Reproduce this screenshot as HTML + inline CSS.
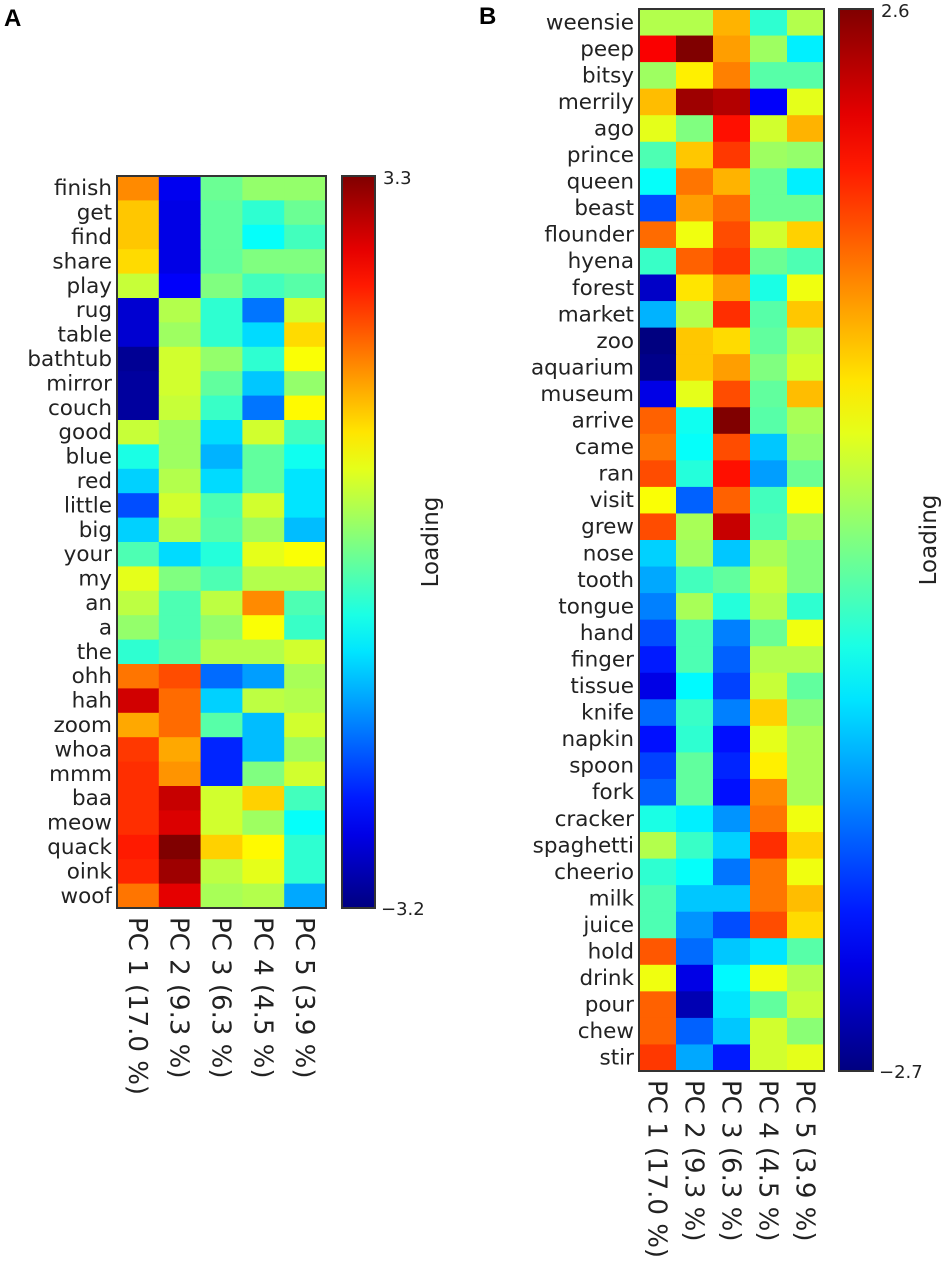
<!DOCTYPE html>
<html><head><meta charset="utf-8"><style>
html,body{margin:0;padding:0;background:#fff;}
svg{display:block;font-family:"DejaVu Sans","Liberation Sans",sans-serif;}
</style></head><body>
<svg id="fig" width="950" height="1269" viewBox="0 0 950 1269">
<text x="4" y="26" font-size="24" font-weight="bold" font-family="Liberation Sans, sans-serif">A</text>
<text x="479" y="24" font-size="24" font-weight="bold" font-family="Liberation Sans, sans-serif">B</text>
<g id="panelA"></g>
<g id="panelB"></g>
</svg>
<script>
// Loadings normalized to colour-scale position (0 = min, 1 = max of each panel's scale)
const pcLabels = ["PC 1 (17.0 %)","PC 2 (9.3 %)","PC 3 (6.3 %)","PC 4 (4.5 %)","PC 5 (3.9 %)"];
const wordsA = ["finish","get","find","share","play","rug","table","bathtub","mirror","couch","good","blue","red","little","big","your","my","an","a","the","ohh","hah","zoom","whoa","mmm","baa","meow","quack","oink","woof"];
const valuesA = [
[0.74,0.11,0.48,0.52,0.52],[0.68,0.10,0.47,0.42,0.48],[0.68,0.10,0.47,0.38,0.44],[0.66,0.10,0.47,0.50,0.50],[0.57,0.12,0.50,0.44,0.46],
[0.08,0.55,0.42,0.24,0.58],[0.08,0.53,0.42,0.34,0.66],[0.02,0.58,0.52,0.42,0.62],[0.03,0.58,0.47,0.32,0.52],[0.03,0.57,0.43,0.24,0.63],
[0.57,0.53,0.34,0.58,0.44],[0.40,0.53,0.30,0.47,0.39],[0.33,0.55,0.34,0.47,0.35],[0.20,0.58,0.45,0.58,0.35],[0.33,0.55,0.46,0.53,0.31],
[0.45,0.34,0.41,0.60,0.62],[0.60,0.50,0.45,0.55,0.55],[0.56,0.45,0.56,0.74,0.45],[0.52,0.45,0.52,0.62,0.43],[0.42,0.46,0.55,0.55,0.58],
[0.76,0.80,0.23,0.28,0.54],[0.92,0.77,0.33,0.56,0.55],[0.71,0.77,0.46,0.31,0.58],[0.82,0.71,0.16,0.31,0.53],[0.83,0.73,0.16,0.50,0.58],
[0.83,0.93,0.58,0.67,0.44],[0.83,0.91,0.58,0.53,0.38],[0.85,1.00,0.67,0.63,0.42],[0.84,0.97,0.56,0.60,0.42],[0.76,0.90,0.54,0.55,0.29]];
const scaleA = ["3.3","\u22123.2"];
const wordsB = ["weensie","peep","bitsy","merrily","ago","prince","queen","beast","flounder","hyena","forest","market","zoo","aquarium","museum","arrive","came","ran","visit","grew","nose","tooth","tongue","hand","finger","tissue","knife","napkin","spoon","fork","cracker","spaghetti","cheerio","milk","juice","hold","drink","pour","chew","stir"];
const valuesB = [
[0.55,0.55,0.70,0.42,0.55],[0.88,1.00,0.72,0.53,0.36],[0.53,0.64,0.75,0.46,0.46],[0.69,0.97,0.95,0.12,0.60],[0.60,0.50,0.86,0.58,0.70],
[0.45,0.68,0.82,0.53,0.52],[0.38,0.76,0.70,0.48,0.36],[0.20,0.72,0.77,0.48,0.48],[0.77,0.61,0.80,0.58,0.67],[0.43,0.78,0.82,0.48,0.45],
[0.07,0.65,0.72,0.40,0.61],[0.30,0.55,0.83,0.46,0.68],[0.00,0.68,0.66,0.47,0.56],[0.01,0.68,0.72,0.50,0.58],[0.10,0.60,0.80,0.47,0.69],
[0.78,0.39,1.00,0.46,0.54],[0.76,0.38,0.80,0.32,0.52],[0.80,0.41,0.86,0.28,0.48],[0.62,0.22,0.78,0.44,0.62],[0.80,0.54,0.93,0.45,0.53],
[0.33,0.53,0.32,0.54,0.50],[0.29,0.44,0.47,0.57,0.50],[0.25,0.54,0.41,0.55,0.42],[0.20,0.45,0.25,0.48,0.61],[0.15,0.45,0.22,0.55,0.55],
[0.10,0.37,0.19,0.57,0.47],[0.23,0.43,0.25,0.67,0.51],[0.14,0.42,0.14,0.60,0.54],[0.19,0.47,0.16,0.64,0.54],[0.22,0.47,0.14,0.74,0.54],
[0.40,0.36,0.27,0.76,0.61],[0.55,0.43,0.33,0.83,0.67],[0.42,0.38,0.24,0.76,0.61],[0.45,0.32,0.32,0.76,0.69],[0.45,0.27,0.20,0.80,0.66],
[0.79,0.23,0.32,0.35,0.46],[0.61,0.10,0.37,0.61,0.55],[0.78,0.05,0.35,0.47,0.57],[0.78,0.22,0.32,0.58,0.51],[0.82,0.29,0.15,0.58,0.60]];
const scaleB = ["2.6","\u22122.7"];

const NS="http://www.w3.org/2000/svg";
function mk(tag,attrs,parent){const e=document.createElementNS(NS,tag);for(const k in attrs)e.setAttribute(k,attrs[k]);parent.appendChild(e);return e;}
function cl(v){return Math.max(0,Math.min(1,v));}
function jet(t){const r=cl(1.5-Math.abs(4*t-3)),g=cl(1.5-Math.abs(4*t-2)),b=cl(1.5-Math.abs(4*t-1));return `rgb(${Math.round(r*255)},${Math.round(g*255)},${Math.round(b*255)})`;}
let gid=0;
function draw(g,words,vals,scale,L){
  const n=words.length, cw=(L.right-L.left)/5, rh=(L.bottom-L.top)/n;
  const xs=j=>L.left+j*cw, ys=i=>L.top+i*rh;
  vals.forEach((row,i)=>row.forEach((v,j)=>{
    const r=mk('rect',{x:xs(j),y:ys(i),width:cw+0.5,height:rh+0.5,fill:jet(v)},g);
    
    
  }));
  const fr=mk('rect',{x:L.left,y:L.top,width:L.right-L.left,height:L.bottom-L.top,fill:'none',stroke:'#333',"stroke-width":2},g);
  
  
  words.forEach((w,i)=>{
    const t=mk('text',{x:L.left-5,y:ys(i)+rh/2+7,"text-anchor":"end","font-size":21.5,fill:'#222'},g);
    t.textContent=w;
    
    
  });
  pcLabels.forEach((p,j)=>{
    const cx=xs(j)+cw/2, y0=L.bottom+9;
    const t=mk('text',{x:0,y:0,"font-size":26,fill:'#222',transform:`translate(${cx-9},${y0}) rotate(90)`},g);
    t.textContent=p;
    
    
  });
  const id='grad'+(gid++);
  const defs=mk('defs',{},g);
  const lg=mk('linearGradient',{id:id,x1:0,y1:1,x2:0,y2:0},defs);
  for(let k=0;k<=20;k++)mk('stop',{offset:k/20,"stop-color":jet(k/20)},lg);
  const cb=mk('rect',{x:L.cbx,y:L.top,width:L.cbw,height:L.bottom-L.top,fill:`url(#${id})`,stroke:'#333',"stroke-width":2},g);
  
  
  const t1=mk('text',{x:L.cbx+L.cbw+8,y:L.top+8,"font-size":18,fill:'#222'},g);
  t1.textContent=scale[0];
  
  
  const t2=mk('text',{x:L.cbx+L.cbw+6,y:L.bottom+7,"font-size":18,fill:'#222'},g);
  t2.textContent=scale[1];
  
  
  const lt=mk('text',{x:0,y:0,"font-size":23,fill:'#222',"text-anchor":"middle",transform:`translate(${L.labx},${(L.top+L.bottom)/2}) rotate(-90)`},g);
  lt.textContent='Loading';
  
  
}
draw(document.getElementById('panelA'),wordsA,valuesA,scaleA,{left:117,right:326,top:176,bottom:908,cbx:342,cbw:33,labx:438});
draw(document.getElementById('panelB'),wordsB,valuesB,scaleB,{left:639,right:824,top:9,bottom:1071,cbx:839,cbw:34,labx:936});
</script>
</body></html>
